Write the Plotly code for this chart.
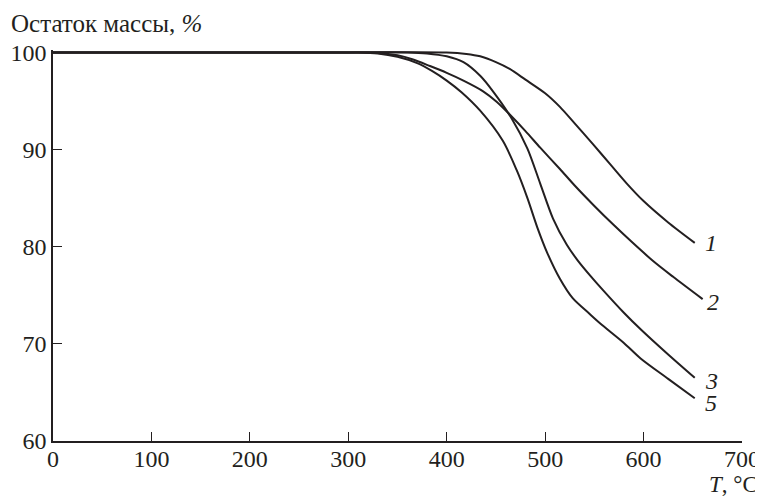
import plotly.graph_objects as go

# Curve 1
t1 = [0, 100, 200, 300, 400, 420, 434, 450, 464, 480, 500, 515, 530, 549, 566, 583, 600, 625, 652]
m1 = [100, 100, 100, 100, 100, 99.85, 99.6, 99.0, 98.3, 97.2, 95.8, 94.4, 92.7, 90.5, 88.5, 86.5, 84.7, 82.5, 80.4]
# Curve 2
t2 = [0, 100, 200, 300, 330, 350, 365, 383, 400, 417, 437, 451, 466, 480, 495, 515, 530, 549, 570, 589, 610, 630, 660]
m2 = [100, 100, 100, 100, 99.95, 99.7, 99.3, 98.6, 97.9, 97.1, 96.0, 94.9, 93.4, 91.9, 90.2, 88.0, 86.3, 84.3, 82.2, 80.4, 78.5, 76.9, 74.6]
# Curve 3
t3 = [0, 100, 200, 300, 360, 380, 400, 417, 434, 447, 466, 482, 495, 508, 522, 533, 546, 559, 580, 597, 625, 652]
m3 = [100, 100, 100, 100, 100, 99.9, 99.6, 99.0, 97.6, 96.0, 93.2, 90.1, 86.5, 82.9, 80.2, 78.6, 77.0, 75.5, 73.2, 71.5, 68.9, 66.5]
# Curve 5
t5 = [0, 100, 200, 300, 310, 330, 350, 370, 385, 400, 415, 434, 457, 471, 482, 492, 502, 515, 528, 545, 556, 580, 597, 625, 652]
m5 = [100, 100, 100, 100, 100, 99.9, 99.55, 98.9, 98.1, 97.1, 95.9, 94.0, 90.9, 87.9, 85.0, 82.0, 79.4, 76.7, 74.7, 73.1, 72.1, 70.1, 68.5, 66.4, 64.4]

series = [("1", t1, m1), ("2", t2, m2), ("3", t3, m3), ("5", t5, m5)]
label_pos = {"1": (668, 80.4), "2": (671, 74.3), "3": (669, 66.2), "5": (669, 63.9)}

x_ticks = [0, 100, 200, 300, 400, 500, 600, 700]
y_ticks = [60, 70, 80, 90, 100]

FONT = "Liberation Serif"
INK = "#231f20"

# page has an 8px body margin: figure placed at (8, 8)
OFF = 8
W, H = 763 - OFF, 496 - OFF
L, R, T, B = 53 - OFF, 21, 50 - OFF, 55
pw, ph = W - L - R, H - T - B

fig = go.Figure()
for name, t, m in series:
    fig.add_trace(go.Scatter(x=t, y=m, mode="lines", line=dict(color=INK, width=2, shape="spline", smoothing=0.8),
                             showlegend=False, hoverinfo="skip"))
    lx, ly = label_pos[name]
    fig.add_annotation(x=lx, y=ly, text=f"<i>{name}</i>", showarrow=False,
                       font=dict(family=FONT, size=24, color=INK), xanchor="center", yanchor="middle")

def px_x(p):
    return (p - OFF - L) / pw

def px_y(p):
    return (H - B - (p - OFF)) / ph

fig.add_annotation(xref="paper", yref="paper", x=px_x(9), y=px_y(23),
                   text="Остаток массы, <i>%</i>", showarrow=False, xanchor="left", yanchor="middle",
                   font=dict(family=FONT, size=25, color=INK))
fig.add_annotation(xref="paper", yref="paper", x=px_x(760), y=px_y(484),
                   text="<i>T</i>, °C", showarrow=False, xanchor="right", yanchor="middle",
                   font=dict(family=FONT, size=23, color=INK))

axis_common = dict(ticks="inside", ticklen=9, tickwidth=1.3, tickcolor=INK,
                   showline=True, linecolor=INK, linewidth=1.5, showgrid=False, zeroline=False,
                   automargin=False, tickfont=dict(family=FONT, size=24, color=INK))

fig.update_layout(
    width=W, height=H, margin=dict(l=L, r=R, t=T, b=B, autoexpand=False),
    paper_bgcolor="white", plot_bgcolor="white",
    font=dict(family=FONT, size=24, color=INK),
    xaxis=dict(range=[0, 700], tickvals=x_ticks, ticklabelstandoff=-5, **axis_common),
    yaxis=dict(range=[60, 100.25], tickvals=y_ticks, **axis_common),
)

fig.write_html("out.html")
